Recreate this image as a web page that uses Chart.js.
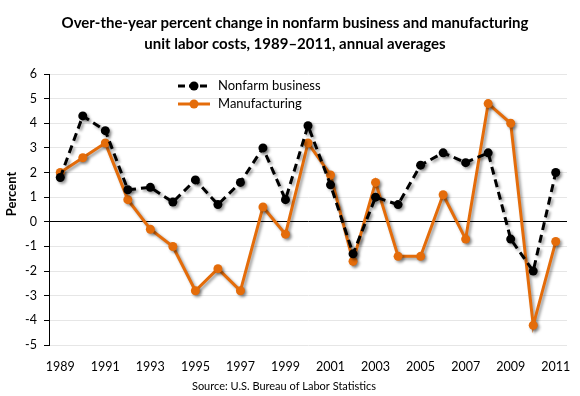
<!DOCTYPE html>
<html>
<head>
<meta charset="utf-8">
<script src="https://cdn.jsdelivr.net/npm/chart.js@4/dist/chart.umd.min.js"></script>
<style>
  html, body { margin: 0; padding: 0; background: #ffffff; }
  #wrap { width: 580px; height: 396px; position: relative; }
</style>
</head>
<body>
<div id="wrap"><canvas id="chart"></canvas></div>
<script>
// Years on the x axis
const years = [
  '1989', '1990', '1991', '1992', '1993', '1994', '1995', '1996', '1997', '1998', '1999',
  '2000', '2001', '2002', '2003', '2004', '2005', '2006', '2007', '2008', '2009', '2010', '2011'
];

// Over-the-year percent change, unit labor costs
const nonfarmBusiness = [
  1.8, 4.3, 3.7, 1.3, 1.4, 0.8, 1.7, 0.7, 1.6, 3.0, 0.9,
  3.9, 1.5, -1.3, 1.0, 0.7, 2.3, 2.8, 2.4, 2.8, -0.7, -2.0, 2.0
];
const manufacturing = [
  2.0, 2.6, 3.2, 0.9, -0.3, -1.0, -2.8, -1.9, -2.8, 0.6, -0.5,
  3.2, 1.9, -1.6, 1.6, -1.4, -1.4, 1.1, -0.7, 4.8, 4.0, -4.2, -0.8
];

const seriesNames = ['Nonfarm business', 'Manufacturing'];
const titleLines = [
  'Over-the-year percent change in nonfarm business and manufacturing',
  'unit labor costs, 1989\u20132011, annual averages'
];
const sourceText = 'Source: U.S. Bureau of Labor Statistics';
const yAxisTitle = 'Percent';

const ORANGE = '#e46c0a';
const FONT = 'Lato, "Open Sans", sans-serif';

// Soft drop shadow under the lines, like the original spreadsheet chart
const shadowPlugin = {
  id: 'shadow',
  beforeDatasetsDraw(chart) {
    const ctx = chart.ctx;
    ctx.save();
    ctx.shadowColor = 'rgba(0,0,0,0.4)';
    ctx.shadowBlur = 3;
    ctx.shadowOffsetX = 2;
    ctx.shadowOffsetY = 2;
  },
  afterDatasetsDraw(chart) {
    chart.ctx.restore();
  }
};

// Title, in-plot legend, y axis title and source note
const textPlugin = {
  id: 'texts',
  afterDraw(chart) {
    const ctx = chart.ctx;
    ctx.save();
    ctx.fillStyle = '#000000';
    ctx.textAlign = 'center';
    ctx.textBaseline = 'middle';
    ctx.font = 'bold 15px ' + FONT;
    ctx.fillText(titleLines[0], 295, 23);
    ctx.fillText(titleLines[1], 295, 44);

    ctx.font = '11px ' + FONT;
    ctx.fillText(sourceText, 284, 386);

    ctx.save();
    ctx.translate(12, 194);
    ctx.rotate(-Math.PI / 2);
    ctx.font = 'bold 13px ' + FONT;
    ctx.fillText(yAxisTitle, 0, 0);
    ctx.restore();

    // legend
    const rows = [
      { y: 86, color: '#000000', dash: [7, 4] },
      { y: 104, color: ORANGE, dash: [] }
    ];
    rows.forEach((r, i) => {
      ctx.strokeStyle = r.color;
      ctx.lineWidth = 3;
      ctx.setLineDash(r.dash);
      ctx.beginPath();
      ctx.moveTo(178, r.y);
      ctx.lineTo(210, r.y);
      ctx.stroke();
      ctx.setLineDash([]);
      ctx.fillStyle = r.color;
      ctx.beginPath();
      ctx.arc(194, r.y, 4.5, 0, Math.PI * 2);
      ctx.fill();
      ctx.fillStyle = '#000000';
      ctx.textAlign = 'left';
      ctx.font = '13px ' + FONT;
      ctx.fillText(seriesNames[i], 218, r.y);
    });
    ctx.restore();
  }
};

new Chart(document.getElementById('chart'), {
  type: 'line',
  data: {
    labels: years,
    datasets: [
      {
        label: seriesNames[0],
        data: nonfarmBusiness,
        borderColor: '#000000',
        backgroundColor: '#000000',
        borderWidth: 3,
        borderDash: [8, 5],
        pointRadius: 4.5,
        pointHoverRadius: 4.5,
        pointBorderWidth: 0,
        tension: 0
      },
      {
        label: seriesNames[1],
        data: manufacturing,
        borderColor: ORANGE,
        backgroundColor: ORANGE,
        borderWidth: 3,
        pointRadius: 4.5,
        pointHoverRadius: 4.5,
        pointBorderWidth: 0,
        tension: 0
      }
    ]
  },
  options: {
    responsive: true,
    maintainAspectRatio: false,
    animation: false,
    layout: {
      padding: { top: 74, left: 0, right: 13, bottom: 21 }
    },
    scales: {
      x: {
        offset: true,
        grid: { display: false },
        border: { display: false },
        afterFit(scale) { scale.height = 30; },
        ticks: {
          autoSkip: false,
          maxRotation: 0,
          padding: 6,
          color: '#000000',
          font: { family: FONT, size: 12.5 },
          callback: function(value, index) {
            return index % 2 === 0 ? years[index] : '';
          }
        }
      },
      y: {
        min: -5,
        max: 6,
        afterFit(scale) { scale.width = 49; },
        border: { display: true, color: '#000000', width: 1 },
        grid: {
          color: ctx => (ctx.tick && ctx.tick.value === 0 ? '#000000' : '#e6e6e6'),
          lineWidth: 1,
          drawTicks: true,
          tickLength: 5,
          tickColor: '#000000'
        },
        ticks: {
          stepSize: 1,
          padding: 7,
          color: '#000000',
          font: { family: FONT, size: 12.5 }
        }
      }
    },
    plugins: {
      legend: { display: false },
      title: { display: false },
      tooltip: { enabled: false }
    }
  },
  plugins: [shadowPlugin, textPlugin]
});
</script>
</body>
</html>
